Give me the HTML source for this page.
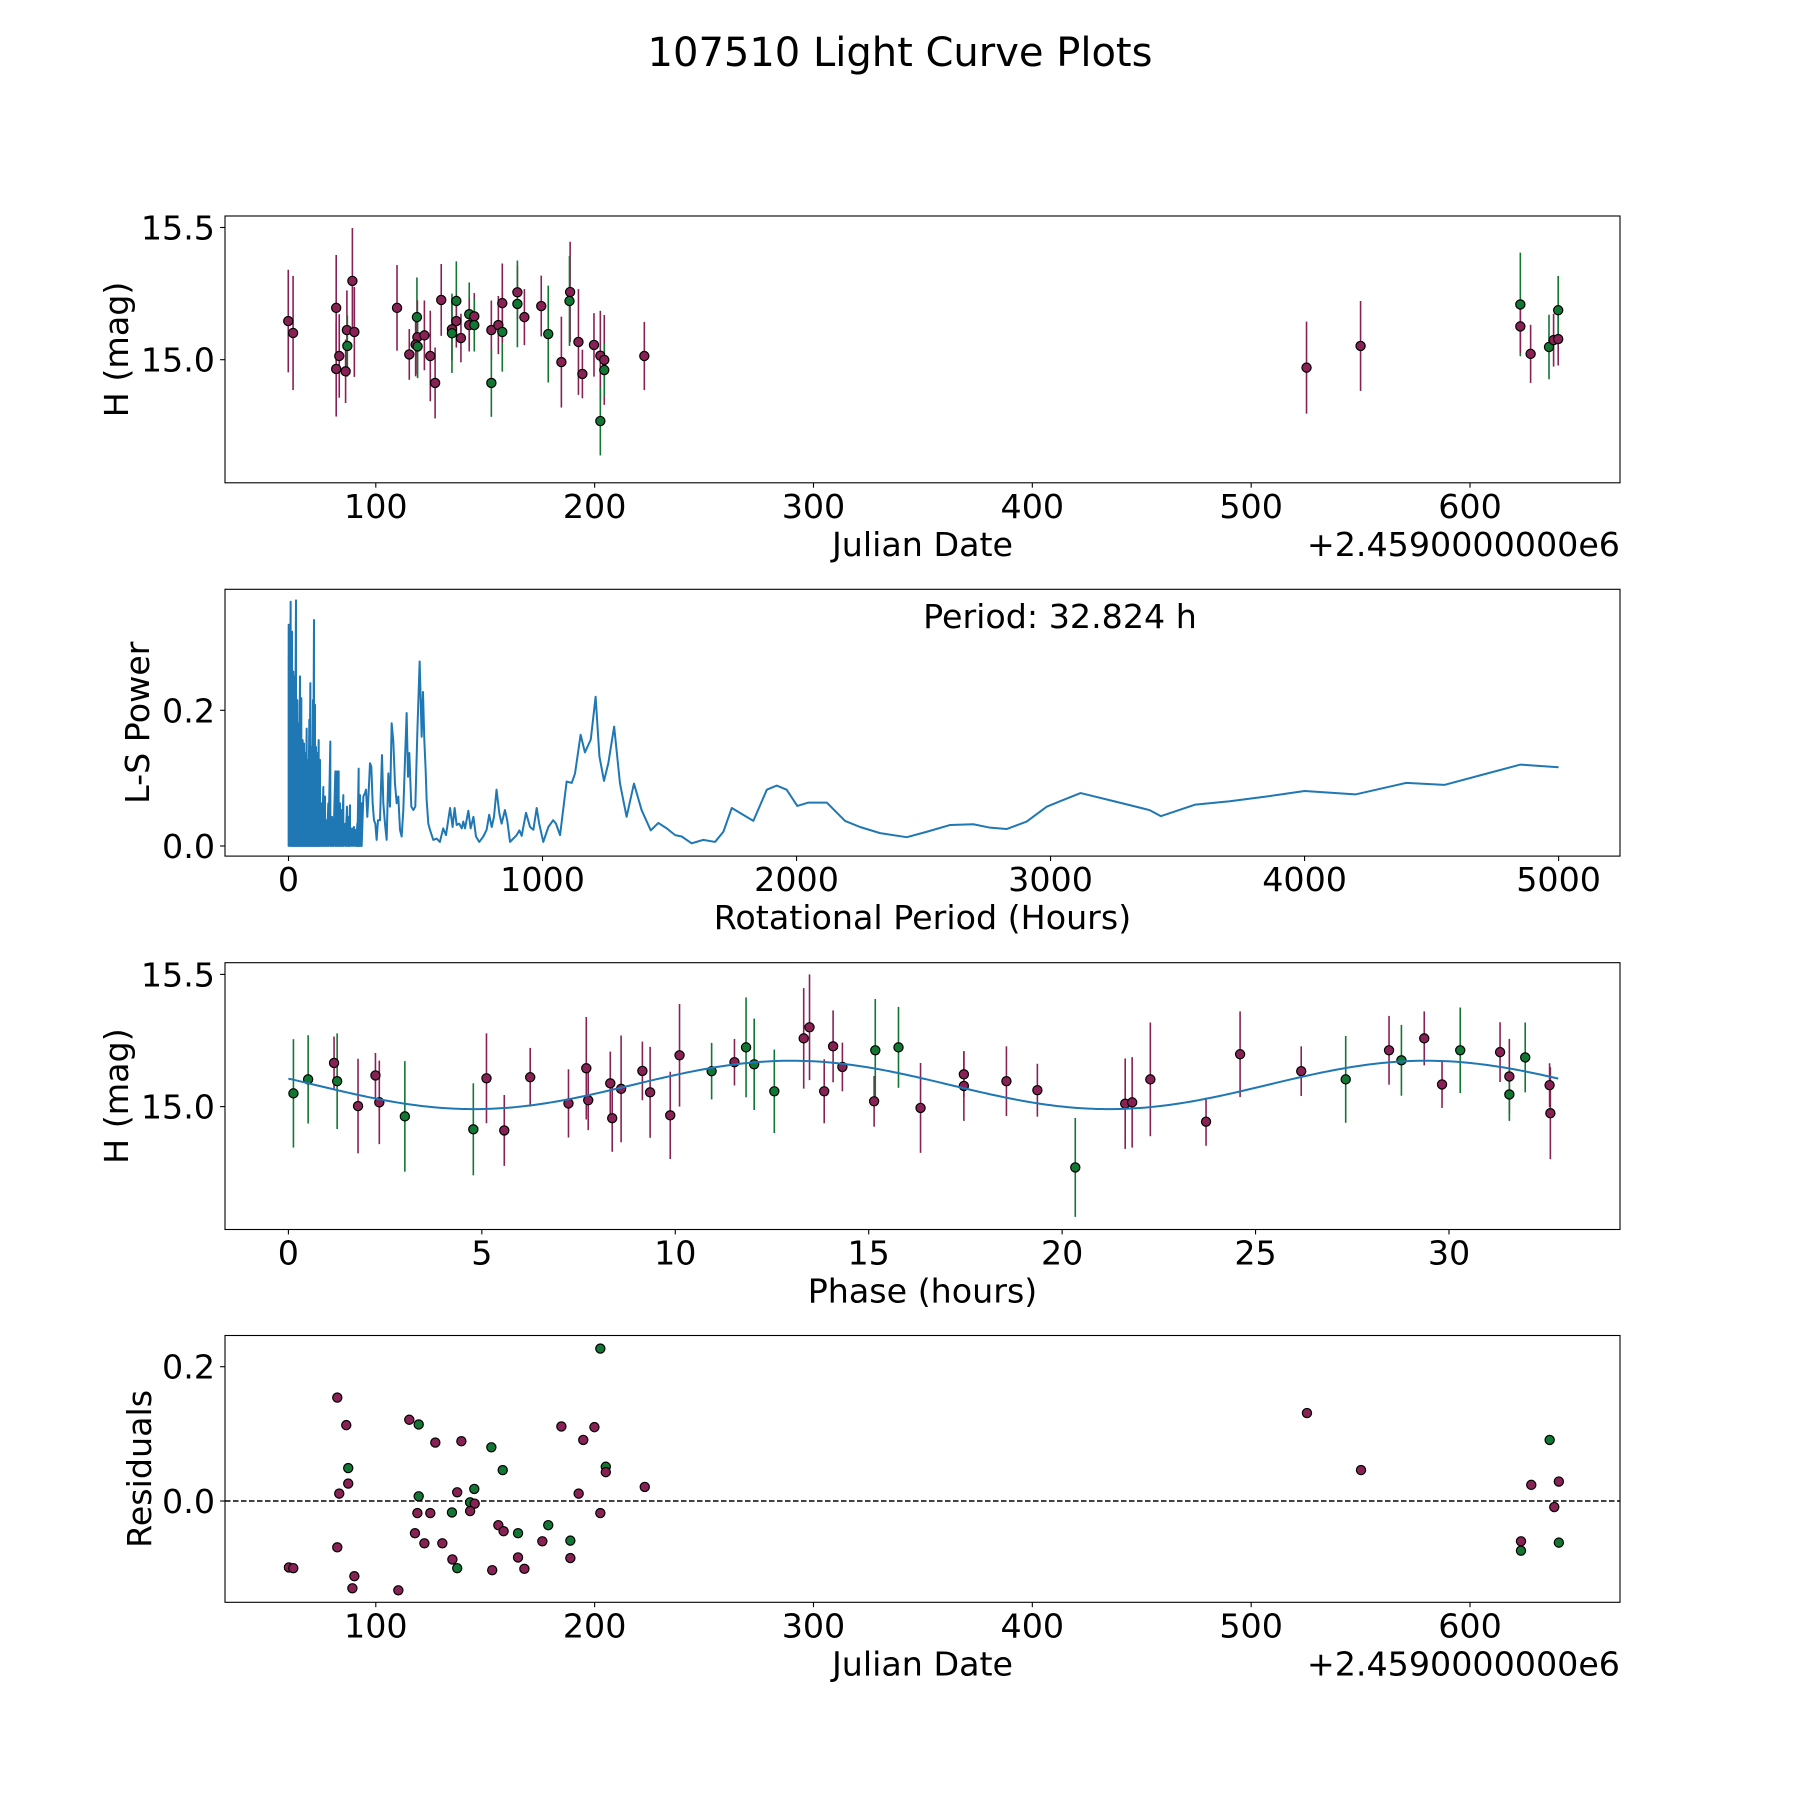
<!DOCTYPE html>
<html><head><meta charset="utf-8"><title>107510 Light Curve Plots</title>
<style>html,body{margin:0;padding:0;background:#fff}svg{display:block}text{font-family:"DejaVu Sans","Liberation Sans",sans-serif;fill:#000}</style>
</head><body>
<svg id="fig" width="1800" height="1800" viewBox="0 0 1800 1800" xmlns="http://www.w3.org/2000/svg">
<rect x="0" y="0" width="1800" height="1800" fill="#fff"/>
<text x="900" y="66" font-size="40" text-anchor="middle">107510 Light Curve Plots</text>
</svg>
<script>
// ---- Panel 1: light curve vs Julian date ----
const jdDays = [60.0,62.2,81.9,81.9,83.3,86.8,87.0,86.2,89.3,90.2,109.7,115.3,118.8,119.0,118.2,119.1,122.2,124.9,127.1,129.9,136.8,134.8,134.8,136.8,138.9,142.7,145.0,142.7,145.0,152.8,152.8,156.0,157.8,157.8,164.7,164.7,167.9,175.6,178.8,184.8,188.8,188.5,192.6,194.4,199.7,202.6,204.4,204.4,202.6,222.7,525.3,550.0,623.0,623.0,627.7,636.1,638.2,640.3,640.3];
const jdMag = [15.146,15.101,15.196,14.965,15.014,15.112,15.052,14.956,15.298,15.105,15.196,15.02,15.161,15.085,15.057,15.05,15.092,15.014,14.912,15.226,15.222,15.115,15.1,15.146,15.082,15.172,15.164,15.131,15.131,15.112,14.912,15.131,15.105,15.214,15.255,15.211,15.161,15.203,15.097,14.991,15.256,15.222,15.067,14.946,15.056,15.015,14.999,14.961,14.768,15.014,14.97,15.052,15.209,15.126,15.022,15.048,15.074,15.078,15.187];
const jdErr = [0.194,0.216,0.2,0.18,0.158,0.15,0.116,0.12,0.2,0.17,0.162,0.096,0.15,0.14,0.12,0.12,0.132,0.171,0.134,0.136,0.15,0.118,0.15,0.1,0.092,0.12,0.088,0.1,0.1,0.112,0.128,0.11,0.15,0.15,0.1,0.164,0.106,0.115,0.183,0.172,0.19,0.17,0.2,0.092,0.12,0.17,0.17,0.1,0.13,0.129,0.174,0.17,0.196,0.1,0.11,0.122,0.1,0.1,0.13];
const jdBand = ["m","m","m","m","m","m","g","m","m","m","m","m","g","m","m","g","m","m","m","m","g","m","g","m","m","g","m","m","g","m","g","m","g","m","m","g","m","m","g","m","m","g","m","m","m","m","m","g","g","m","m","m","g","m","m","g","m","m","g"];
const jdTicks = [100,200,300,400,500,600];
const magTicks = [15.0,15.5];
const jdOffsetLabel = "+2.4590000000e6";

// ---- Panel 2: periodogram ----
const periodHours = [0.5,0.7,8.5,13.8,19.0,24.3,29.5,34.8,40.0,45.3,50.5,55.8,61.0,66.3,71.5,76.8,82.0,86.0,91.2,96.4,100.4,104.3,108.3,113.5,118.8,124.0,130.6,137.1,143.7,150.2,156.8,164.7,171.2,176.5,184.4,190.9,197.5,202.7,209.3,215.8,223.7,230.3,236.8,242.1,249.9,257.8,265.7,271.0,276.2,281.4,288.0,294.6,301.1,305.1,310.3,316.9,320.8,326.0,331.3,336.5,341.8,347.0,352.3,360.2,368.0,373.3,379.8,386.4,393.0,399.5,406.1,412.6,419.2,425.8,432.3,438.9,445.4,452.0,458.6,465.1,470.4,475.6,483.5,491.4,499.2,507.1,516.3,524.2,529.4,534.7,539.9,543.8,550.4,556.8,
570,583,596,609,620,636,646,654,662,672,682,688,695,708,717,728,738,751,767,780,790,800,809,819,830,839,852,861,872,898,909,918,935,951,964,977,987,1003,1023,1042,1053,1069,
1095,1115,1128,1150,1167,1190,1209,1224,1242,1259,1282,1305,1331,1360,1390,1426,1456,1489,1522,1548,1587,1633,1679,1712,1745,1830,1883,1922,1961,2003,2047,2119,2191,2250,2329,2434,2513,2605,2696,2762,2827,2906,2985,3038,3118,3250,3389,3434,3570,3706,3850,4000,4200,4400,4550,4700,4850,5000];
const lsPower = [0.279,0.326,0.360,0.316,0.257,0.250,0.362,0.215,0.181,0.250,0.218,0.156,0.151,0.137,0.173,0.127,0.186,0.240,0.146,0.215,0.333,0.208,0.146,0.137,0.156,0.127,0.063,0.087,0.073,0.038,0.063,0.154,0.043,0.038,0.110,0.110,0.110,0.063,0.053,0.075,0.033,0.058,0.043,0.060,0.026,0.028,0.024,0.033,0.114,0.075,0.063,0.073,0.078,0.083,0.043,0.090,0.122,0.117,0.063,0.038,0.033,0.009,0.038,0.038,0.134,0.063,0.033,0.009,0.107,0.058,0.181,0.154,0.092,0.063,0.073,0.024,0.014,0.053,0.127,0.196,0.102,0.137,0.058,0.053,0.058,0.166,0.272,0.161,0.227,0.156,0.112,0.068,0.033,0.024,
0.009,0.011,0.006,0.026,0.016,0.056,0.028,0.056,0.031,0.033,0.026,0.036,0.026,0.052,0.026,0.043,0.014,0.006,0.014,0.024,0.046,0.028,0.043,0.083,0.048,0.033,0.053,0.038,0.006,0.016,0.023,0.015,0.049,0.028,0.024,0.056,0.033,0.006,0.028,0.038,0.033,0.016,
0.095,0.093,0.107,0.164,0.138,0.157,0.22,0.132,0.096,0.122,0.176,0.092,0.043,0.092,0.053,0.023,0.034,0.026,0.016,0.014,0.004,0.009,0.006,0.021,0.056,0.037,0.083,0.089,0.083,0.059,0.064,0.064,0.037,0.028,0.019,0.013,0.021,0.031,0.032,0.027,0.025,0.036,0.058,0.066,0.078,0.066,0.053,0.044,0.061,0.066,0.073,0.081,0.076,0.093,0.09,0.105,0.12,0.116];
const periodTicks = [0,1000,2000,3000,4000,5000];
const powerTicks = [0.0,0.2];
const denseLimit = 290; // spikes below this period drop to zero between samples
const bestPeriodLabel = "Period: 32.824 h";

// ---- Panel 3: phase-folded ----
const phaseHours = [0.13,0.51,1.18,1.26,1.80,2.25,2.35,3.01,4.78,5.12,5.58,6.25,7.24,7.70,7.75,8.32,8.37,8.60,9.15,9.35,9.87,10.11,10.94,11.53,11.83,12.04,12.56,13.32,13.47,13.85,14.08,14.32,15.14,15.17,15.77,16.34,17.46,17.46,18.56,19.36,20.34,21.63,21.81,22.28,23.72,24.60,26.18,27.33,28.45,28.77,29.36,29.82,30.29,31.32,31.56,31.56,31.97,32.60,32.62];
const phaseMag = [15.050,15.103,15.165,15.096,15.002,15.118,15.016,14.963,14.914,15.107,14.910,15.111,15.012,15.145,15.024,15.088,14.956,15.067,15.135,15.054,14.967,15.194,15.134,15.168,15.224,15.160,15.058,15.258,15.300,15.058,15.228,15.150,15.020,15.213,15.224,14.995,15.122,15.078,15.096,15.062,14.770,15.011,15.016,15.103,14.943,15.198,15.134,15.103,15.213,15.175,15.258,15.084,15.213,15.206,15.114,15.046,15.186,15.081,14.975];
const phaseErr = [0.205,0.167,0.1,0.181,0.179,0.085,0.158,0.209,0.174,0.170,0.134,0.111,0.129,0.194,0.113,0.12,0.127,0.202,0.111,0.172,0.165,0.194,0.107,0.088,0.189,0.173,0.158,0.19,0.2,0.121,0.136,0.092,0.096,0.194,0.153,0.17,0.086,0.132,0.132,0.1,0.187,0.171,0.171,0.215,0.091,0.162,0.094,0.164,0.13,0.134,0.102,0.089,0.162,0.113,0.142,0.1,0.132,0.083,0.174];
const phaseBand = ["g","g","m","g","m","m","m","g","g","m","m","m","m","m","m","m","m","m","m","m","m","m","g","m","g","g","g","m","m","m","m","m","m","g","g","m","m","m","m","m","g","m","m","m","m","m","m","g","m","g","m","m","g","m","m","g","g","m","m"];
const phaseTicks = [0,5,10,15,20,25,30];
const fitMean = 15.082, fitAmp = 0.0915, fitHalfPeriod = 16.412, fitPeakPhase = 13.0, fitEnd = 32.824;

// ---- Panel 4: residuals ----
const resDays = [60.3,62.3,82.4,86.5,87.4,87.4,83.3,82.4,90.2,89.3,110.3,115.3,119.6,119.6,119.0,117.9,122.2,124.9,127.2,130.4,135.0,137.2,134.8,137.2,139.1,145.0,143.1,145.2,143.1,152.8,158.0,153.2,156.0,158.4,165.0,165.0,167.9,176.1,178.8,184.8,188.9,188.9,192.7,194.8,199.9,202.6,202.6,205.1,205.1,222.9,525.5,550.2,623.3,623.3,628.0,636.4,638.5,640.6,640.6];
const resValues = [-0.099,-0.100,0.154,0.113,0.049,0.026,0.011,-0.069,-0.112,-0.130,-0.133,0.121,0.114,0.007,-0.018,-0.048,-0.063,-0.018,0.087,-0.063,-0.087,-0.100,-0.017,0.013,0.089,0.018,-0.002,-0.004,-0.015,0.080,0.046,-0.103,-0.036,-0.045,-0.048,-0.084,-0.101,-0.060,-0.036,0.111,-0.059,-0.085,0.011,0.091,0.110,0.227,-0.018,0.051,0.043,0.021,0.131,0.046,-0.060,-0.074,0.024,0.091,-0.009,0.029,-0.062];
const resBand = ["m","m","m","m","g","m","m","m","m","m","m","m","g","g","m","m","m","m","m","m","m","g","g","m","m","g","g","m","m","g","g","m","m","m","g","m","m","m","g","m","g","m","m","m","m","g","m","g","m","m","m","m","m","g","m","g","m","m","g"];
const resTicks = [0.0,0.2];

const NS = "http://www.w3.org/2000/svg";
const svg = document.getElementById("fig");
const COL = {m:"#882255", g:"#117733"};
const AX_L = 225, AX_R = 1620, AX_H = 266.8;
const AX_TOPS = [216, 589.3, 962.7, 1335.5];
const FS = 33.3;

function mk(tag, attrs, parent){
  const e = document.createElementNS(NS, tag);
  for (const k in attrs) e.setAttribute(k, attrs[k]);
  (parent||svg).appendChild(e);
  return e;
}
function linScale(d0,d1,r0,r1){ return v => r0 + (v-d0)*(r1-r0)/(d1-d0); }

function makeAxes(i, name, xs, ys, xt, yt, xfmt, yfmt, xlabel, ylabel, ylabelX){
  const top = AX_TOPS[i], bot = top + AX_H;
  const g = mk("g", {});
  
  
  const frame = mk("rect", {x:AX_L, y:top, width:AX_R-AX_L, height:AX_H, fill:"none", stroke:"#000", "stroke-width":1.1}, g);
  
  
  xt.forEach(v => {
    const x = xs(v);
    const t = mk("line", {x1:x, x2:x, y1:bot, y2:bot+4.9, stroke:"#000", "stroke-width":1.1}, g);
    
    
    const l = mk("text", {x:x, y:bot+35, "font-size":FS, "text-anchor":"middle"}, g);
    l.textContent = xfmt(v);
    
    
  });
  yt.forEach(v => {
    const y = ys(v);
    const t = mk("line", {x1:AX_L-4.9, x2:AX_L, y1:y, y2:y, stroke:"#000", "stroke-width":1.1}, g);
    
    
    const l = mk("text", {x:AX_L-10, y:y+12, "font-size":FS, "text-anchor":"end"}, g);
    l.textContent = yfmt(v);
    
    
  });
  const xl = mk("text", {x:(AX_L+AX_R)/2, y:bot+73, "font-size":FS, "text-anchor":"middle"}, g);
  xl.textContent = xlabel;
  
  
  const cy = top + AX_H/2;
  const yl = mk("text", {x:ylabelX, y:cy, "font-size":FS, "text-anchor":"middle", transform:`rotate(-90 ${ylabelX} ${cy})`}, g);
  yl.textContent = ylabel;
  
  
  return g;
}
const f1 = v => v.toFixed(1);
const f0 = v => String(v);

function errPoints(g, xs, ys, X, Y, E, B, label){
  for (let k=0;k<X.length;k++){
    const x = xs(X[k]);
    const eb = mk("line", {x1:x, x2:x, y1:ys(Y[k]+E[k]), y2:ys(Y[k]-E[k]), stroke:COL[B[k]], "stroke-width":1.6}, g);
    
    
  }
  for (let k=0;k<X.length;k++){
    const c = mk("circle", {cx:xs(X[k]), cy:ys(Y[k]), r:4.6, fill:COL[B[k]], stroke:"#000", "stroke-width":1.2}, g);
    
    
  }
}

// Panel 1
const xJD = linScale(100,600,375.8,1470);
const yMag1 = linScale(15.0,15.5,AX_TOPS[0]+143.7,AX_TOPS[0]+11.5);
const g1 = makeAxes(0,'light-curve-axes',xJD,yMag1,jdTicks,magTicks,f0,f1,'Julian Date','H (mag)',128);
errPoints(g1,xJD,yMag1,jdDays,jdMag,jdErr,jdBand,'observation');
const off1 = mk("text", {x:AX_R, y:AX_TOPS[0]+AX_H+73, "font-size":FS, "text-anchor":"end"}, g1);
off1.textContent = jdOffsetLabel;



// Panel 2
const xP = linScale(0,5000,288.5,1558.6);
const yPow = linScale(0,0.2,AX_TOPS[1]+256.7,AX_TOPS[1]+121);
const g2 = makeAxes(1,'periodogram-axes',xP,yPow,periodTicks,powerTicks,f0,f1,'Rotational Period (Hours)','L-S Power',149);
let d = "";
for (let k=0;k<periodHours.length;k++){
  const x = xP(periodHours[k]).toFixed(2), y = yPow(lsPower[k]).toFixed(2);
  d += (k===0 ? "M" : "L") + x + " " + y + " ";
  if (periodHours[k] < denseLimit) d += "L" + x + " " + yPow(0).toFixed(2) + " ";
}
const pl = mk("path", {d:d, fill:"none", stroke:"#1f77b4", "stroke-width":2, "stroke-linejoin":"round"}, g2);


const pt = mk("text", {x:1060, y:628, "font-size":FS, "text-anchor":"middle"}, g2);
pt.textContent = bestPeriodLabel;



// Panel 3
const xPh = linScale(0,30,288.4,1449);
const yMag3 = linScale(15.0,15.5,AX_TOPS[2]+143.9,AX_TOPS[2]+11.7);
const g3 = makeAxes(2,'phase-folded-axes',xPh,yMag3,phaseTicks,magTicks,f0,f1,'Phase (hours)','H (mag)',128);
errPoints(g3,xPh,yMag3,phaseHours,phaseMag,phaseErr,phaseBand,'phased');
let dc = "";
for (let t=0;t<=fitEnd+1e-9;t+=fitEnd/300){
  const m = fitMean + fitAmp*Math.cos(2*Math.PI*(t-fitPeakPhase)/fitHalfPeriod);
  dc += (t===0?"M":"L") + xPh(t).toFixed(2) + " " + yMag3(m).toFixed(2) + " ";
}
const fl = mk("path", {d:dc, fill:"none", stroke:"#1f77b4", "stroke-width":2}, g3);



// Panel 4
const yRes = linScale(0,0.2,AX_TOPS[3]+165.5,AX_TOPS[3]+31.2);
const g4 = makeAxes(3,'residuals-axes',xJD,yRes,jdTicks,resTicks,f0,f1,'Julian Date','Residuals',151);
const zl = mk("line", {x1:AX_L, x2:AX_R, y1:yRes(0), y2:yRes(0), stroke:"#000", "stroke-width":1.4, "stroke-dasharray":"5.5 2.5"}, g4);


for (let k=0;k<resDays.length;k++){
  const c = mk("circle", {cx:xJD(resDays[k]), cy:yRes(resValues[k]), r:4.6, fill:COL[resBand[k]], stroke:"#000", "stroke-width":1.2}, g4);
  
  
}
const off4 = mk("text", {x:AX_R, y:AX_TOPS[3]+AX_H+73, "font-size":FS, "text-anchor":"end"}, g4);
off4.textContent = jdOffsetLabel;


</script>
</body></html>
